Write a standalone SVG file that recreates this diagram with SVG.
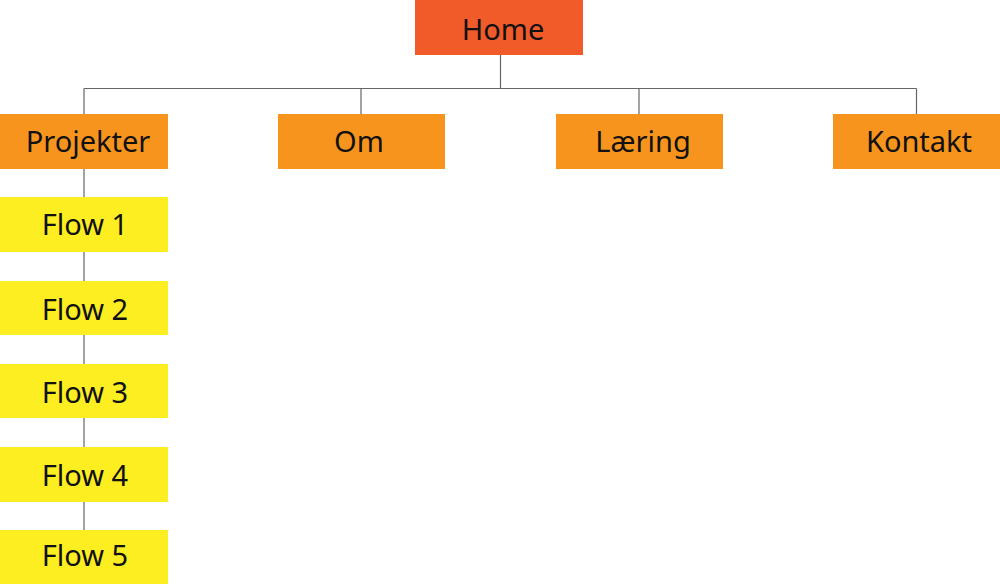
<svg xmlns="http://www.w3.org/2000/svg" width="1000" height="584" viewBox="0 0 1000 584">
<style>
.t{font-family:"Noto Sans","Open Sans",sans-serif;font-size:29px;fill:#111;text-anchor:middle;dominant-baseline:central}
.home{fill:#F15A29}
.lvl1{fill:#F7941D}
.lvl2{fill:#FCEE21}
.c{stroke:#666;stroke-width:1.2;fill:none}
</style>
<rect width="1000" height="584" fill="#fff"/>
<g id="connectors">
<path class="c" d="M500.5 55V88.5M84 88.5H916.5M84 88.5V114M361 88.5V114M639 88.5V114M916.5 88.5V114"/>
<path class="c" d="M84 169V197M84 252V281M84 335V364M84 418V447M84 502V530"/>
</g>
<g id="home"><rect class="home" x="415" y="0" width="168" height="55"/><text class="t" x="503" y="28">Home</text></g>
<g id="projekter"><rect class="lvl1" x="0" y="114" width="168" height="55"/><text class="t" x="88" y="140">Projekter</text></g>
<g id="om"><rect class="lvl1" x="278" y="114" width="167" height="55"/><text class="t" x="359" y="140">Om</text></g>
<g id="laering"><rect class="lvl1" x="556" y="114" width="167" height="55"/><text class="t" x="643" y="140">Læring</text></g>
<g id="kontakt"><rect class="lvl1" x="833" y="114" width="167" height="55"/><text class="t" x="919" y="140">Kontakt</text></g>
<g id="flow1"><rect class="lvl2" x="0" y="197" width="168" height="55"/><text class="t" x="85" y="223">Flow 1</text></g>
<g id="flow2"><rect class="lvl2" x="0" y="281" width="168" height="54"/><text class="t" x="85" y="308">Flow 2</text></g>
<g id="flow3"><rect class="lvl2" x="0" y="364" width="168" height="54"/><text class="t" x="85" y="391">Flow 3</text></g>
<g id="flow4"><rect class="lvl2" x="0" y="447" width="168" height="55"/><text class="t" x="85" y="474">Flow 4</text></g>
<g id="flow5"><rect class="lvl2" x="0" y="530" width="168" height="54"/><text class="t" x="85" y="554">Flow 5</text></g>
</svg>
